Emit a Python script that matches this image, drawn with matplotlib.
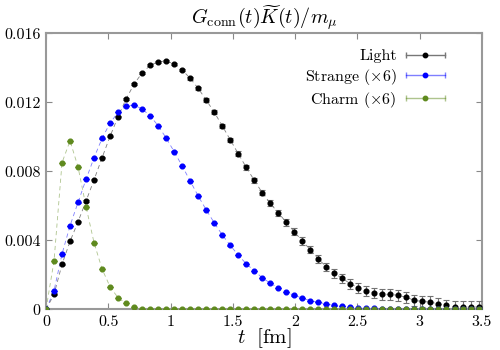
import matplotlib
matplotlib.use("Agg")
import matplotlib.pyplot as plt
from matplotlib.legend_handler import HandlerBase
from matplotlib.lines import Line2D
import numpy as np

plt.rcParams['font.family'] = 'serif'
plt.rcParams['font.serif'] = ['cmr10', 'DejaVu Serif']
plt.rcParams['mathtext.fontset'] = 'cm'
plt.rcParams['axes.formatter.use_mathtext'] = True

t_fm = [0.0, 0.0643, 0.1286, 0.1929, 0.2572, 0.3215, 0.3858, 0.4501, 0.5144, 0.5787,
        0.643, 0.7073, 0.7716, 0.8359, 0.9002, 0.9645, 1.0288, 1.0931, 1.1574, 1.2217,
        1.286, 1.3503, 1.4146, 1.4789, 1.5432, 1.6075, 1.6718, 1.7361, 1.8004, 1.8647,
        1.929, 1.9933, 2.0576, 2.1219, 2.1862, 2.2505, 2.3148, 2.3791, 2.4434, 2.5077,
        2.572, 2.6363, 2.7006, 2.7649, 2.8292, 2.8935, 2.9578, 3.0221, 3.0864, 3.1507,
        3.215, 3.2793, 3.3436, 3.4079, 3.4722]

light = [0.0, 0.00087, 0.00261, 0.00394, 0.00508, 0.00628, 0.00751, 0.00879, 0.01003, 0.01117,
         0.01219, 0.01306, 0.01370, 0.01414, 0.01435, 0.01439, 0.01422, 0.01387, 0.01339, 0.01281,
         0.01213, 0.01143, 0.01064, 0.00983, 0.00902, 0.00823, 0.00748, 0.00676, 0.00614, 0.00560,
         0.00504, 0.00450, 0.00396, 0.00346, 0.00292, 0.00247, 0.00209, 0.00180, 0.00148, 0.00125,
         0.00108, 0.00096, 0.00087, 0.00087, 0.00081, 0.00070, 0.00052, 0.00046, 0.00042, 0.00032,
         0.00023, 0.00015, 0.00013, 0.00013, 0.00014]
light_err = [0.0, 0.00002, 0.00002, 0.00003, 0.00003, 0.00003, 0.00003, 0.00004, 0.00004, 0.00004,
             0.00005, 0.00005, 0.00005, 0.00006, 0.00006, 0.00006, 0.00007, 0.00007, 0.00008, 0.00008,
             0.00009, 0.00010, 0.00011, 0.00012, 0.00013, 0.00014, 0.00015, 0.00016, 0.00017, 0.00018,
             0.00019, 0.00020, 0.00021, 0.00022, 0.00023, 0.00024, 0.00025, 0.00026, 0.00027, 0.00028,
             0.00029, 0.00030, 0.00031, 0.00031, 0.00032, 0.00032, 0.00033, 0.00033, 0.00034, 0.00034,
             0.00034, 0.00035, 0.00035, 0.00035, 0.00035]

strange = [0.0, 0.00108, 0.00321, 0.00485, 0.00620, 0.00754, 0.00879, 0.00991, 0.01080, 0.01142,
           0.01180, 0.01184, 0.01161, 0.01122, 0.01064, 0.00993, 0.00914, 0.00831, 0.00744, 0.00657,
           0.00577, 0.00502, 0.00432, 0.00371, 0.00315, 0.00264, 0.00224, 0.00183, 0.00152, 0.00125,
           0.00100, 0.00081, 0.00066, 0.00050, 0.00041, 0.00031, 0.00023, 0.00018, 0.00014, 0.00010,
           0.00008, 0.00006, 0.00005, 0.00004, 0.00003, 0.00002, 0.00002, 0.00001, 0.00001, 0.00001,
           0.0, 0.0, 0.0, 0.0, 0.0]
strange_err = [0.00001] * 55

charm = [0.0, 0.00280, 0.00850, 0.00977, 0.00825, 0.00595, 0.00386, 0.00234, 0.00131, 0.00067,
         0.00035, 0.00012, 0.00004, 0.00001, 0.0, 0.0, 0.0, 0.0, 0.0, 0.0,
         0.0, 0.0, 0.0, 0.0, 0.0, 0.0, 0.0, 0.0, 0.0, 0.0,
         0.0, 0.0, 0.0, 0.0, 0.0, 0.0, 0.0, 0.0, 0.0, 0.0,
         0.0, 0.0, 0.0, 0.0, 0.0, 0.0, 0.0, 0.0, 0.0, 0.0,
         0.0, 0.0, 0.0, 0.0, 0.0]
charm_err = [0.000005] * 55

labels = ['Light', r'Strange $(\times 6)$', r'Charm $(\times 6)$']
colors = ['black', '#0000ff', '#5f8a1e']
series = [(light, light_err), (strange, strange_err), (charm, charm_err)]


class HErrProxy:
    def __init__(self, color, lcolor):
        self.color = color
        self.lcolor = lcolor


class HErrHandler(HandlerBase):
    def create_artists(self, legend, orig_handle, xdescent, ydescent, width, height,
                       fontsize, trans):
        y = (height - ydescent) / 2.0
        x0, x1 = -xdescent, width - xdescent
        line = Line2D([x0, x1], [y, y], color=orig_handle.lcolor, lw=1.0)
        caps = Line2D([x0, x1], [y, y], ls='none', marker='|', ms=5, mew=1.0,
                      color=orig_handle.lcolor)
        dot = Line2D([(x0 + x1) / 2], [y], ls='none', marker='o', ms=3.2,
                     color=orig_handle.color)
        arts = [line, caps, dot]
        for a in arts:
            a.set_transform(trans)
        return arts


fig = plt.figure(figsize=(5, 3.5), dpi=100)
ax = fig.add_axes([0.092, 0.116, 0.872, 0.789])

proxies = []
for (y, e), c, lab in zip(series, colors, labels):
    ax.plot(t_fm, y, ls=(0, (5, 4)), lw=0.6, color=c, alpha=0.5, zorder=2)
    ecol = (0.45, 0.45, 0.45) if c == 'black' else c
    ax.errorbar(t_fm, y, yerr=e, fmt='o', ms=3.4, color=c, mec=c,
                ecolor=ecol, elinewidth=0.8, capsize=2.2, capthick=0.8, zorder=3)
    lc = '#777777' if c == 'black' else matplotlib.colors.to_rgba(c, 0.5)
    proxies.append(HErrProxy(c, lc))

ax.set_xlim(0, 3.5)
ax.set_ylim(0, 0.016)
ax.set_xticks([0, 0.5, 1, 1.5, 2, 2.5, 3, 3.5])
ax.set_xticklabels(['0', '0.5', '1', '1.5', '2', '2.5', '3', '3.5'])
ax.set_yticks([0, 0.004, 0.008, 0.012, 0.016])
ax.set_yticklabels(['0', '0.004', '0.008', '0.012', '0.016'])
ax.tick_params(direction='in', top=True, right=True, length=4, width=0.8,
               color='#888888', labelsize=11.5, pad=4)
for s in ax.spines.values():
    s.set_color('#999999')
    s.set_linewidth(1.5)

ax.set_xlabel(r'$t\ \ [\mathrm{fm}]$', fontsize=15, labelpad=-1.5)
ax.set_title(r'$G_{\mathrm{conn}}(t)\widetilde{K}(t)/m_\mu$', fontsize=14.5, pad=6)

leg = ax.legend(proxies, labels, handler_map={HErrProxy: HErrHandler()},
                loc='upper right', frameon=False, markerfirst=False,
                fontsize=11.5, handlelength=2.4, handletextpad=0.6,
                labelspacing=0.2, borderaxespad=0.0,
                bbox_to_anchor=(0.929, 0.965))

fig.savefig('out.png', dpi=100)
